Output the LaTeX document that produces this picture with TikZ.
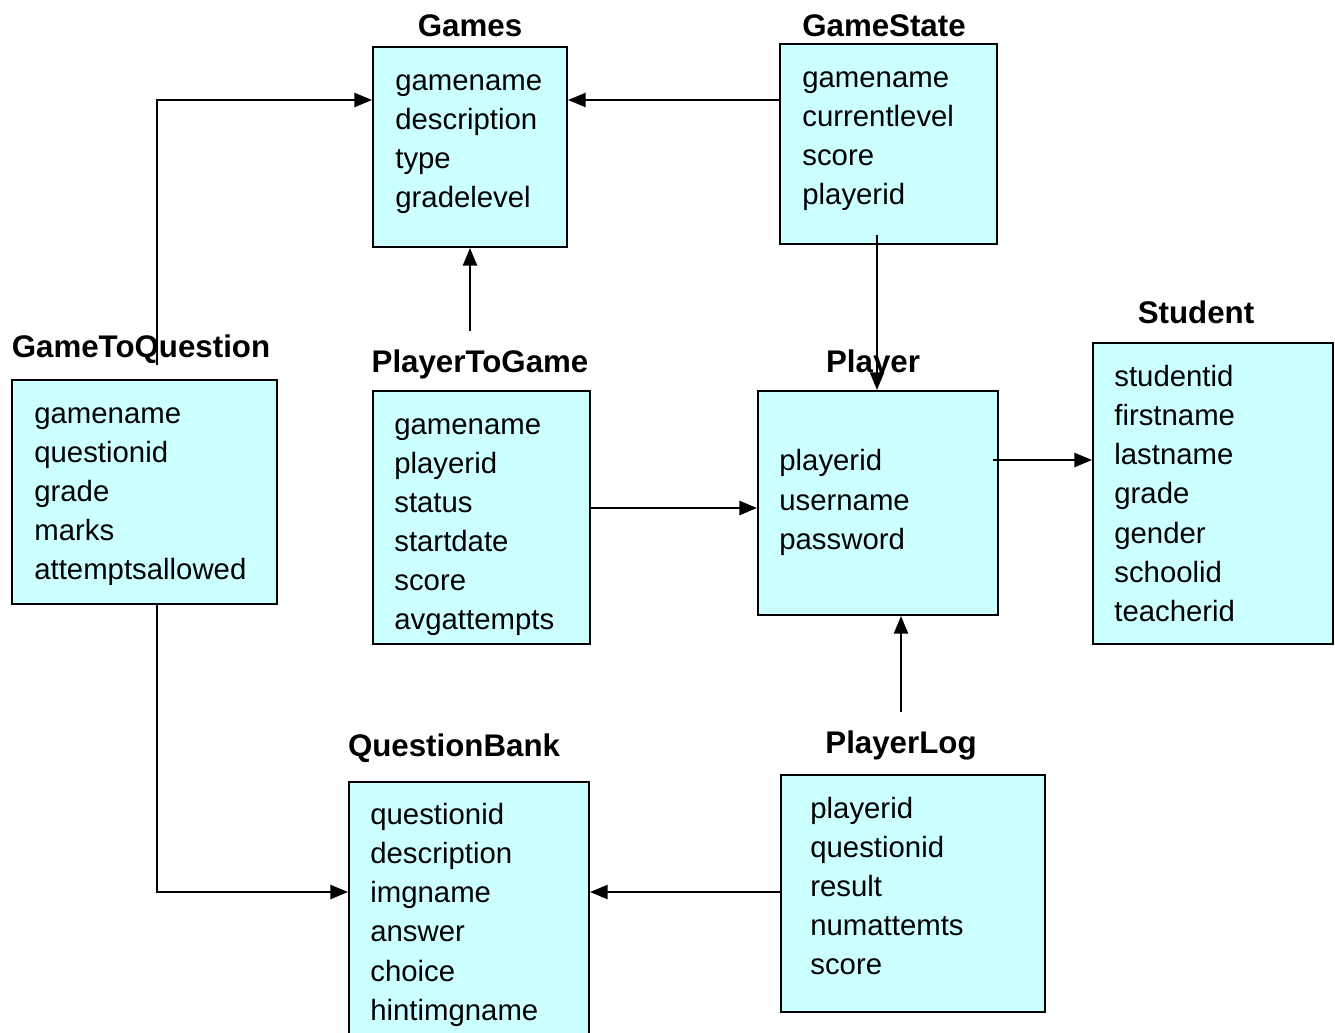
\documentclass[tikz,border=0pt]{standalone}
\usepackage{fontspec}
\setmainfont{Liberation Sans}
\usetikzlibrary{arrows.meta}
\definecolor{tblfill}{HTML}{CCFFFF}
\tikzset{
  tbl/.style={draw, line width=1.2pt, fill=tblfill, inner sep=0pt},
  title/.style={anchor=base, inner sep=0pt, font=\fontsize{17.8}{20}\selectfont\bfseries},
  field/.style={anchor=base west, inner sep=0pt, font=\fontsize{16.7}{20}\selectfont},
  link/.style={line width=1.2pt, -{Triangle[length=10pt,width=8pt]}},
}
\begin{document}
\begin{tikzpicture}[x=0.02cm, y=-0.02cm]
  \clip (0,0) rectangle (1335,1032);
  % tables
  \node [tbl, minimum width=3.88cm, minimum height=4cm] (games) at (470,147) {};
  \node [tbl, minimum width=4.34cm, minimum height=4cm] (gamestate) at (888.5,144) {};
  \node [tbl, minimum width=5.3cm, minimum height=4.48cm] (g2q) at (144.5,492) {};
  \node [tbl, minimum width=4.34cm, minimum height=5.06cm] (p2g) at (481.5,517.5) {};
  \node [tbl, minimum width=4.8cm, minimum height=4.48cm] (player) at (878,503) {};
  \node [tbl, minimum width=4.8cm, minimum height=6.02cm] (student) at (1213,493.5) {};
  \node [tbl, minimum width=4.8cm, minimum height=5.56cm] (qbank) at (469,921) {};
  \node [tbl, minimum width=5.28cm, minimum height=4.74cm] (plog) at (913,893.5) {};

  \node [title] (games-t) at (470,36) {Games};
  \node [title] (gamestate-t) at (884,36) {GameState};
  \node [title] (g2q-t) at (141,357) {GameToQuestion};
  \node [title] (p2g-t) at (480,372) {PlayerToGame};
  \node [title] (player-t) at (873,372) {Player};
  \node [title] (student-t) at (1196,323) {Student};
  \node [title] (qbank-t) at (454,756) {QuestionBank};
  \node [title] (plog-t) at (901,753) {PlayerLog};

  % fields
  \foreach \f [count=\i] in {gamename,description,type,gradelevel}
    \node [field] (games-\i) at (395,51+39*\i) {\f};
  \foreach \f [count=\i] in {gamename,currentlevel,score,playerid}
    \node [field] (gamestate-\i) at (802,48+39*\i) {\f};
  \foreach \f [count=\i] in {gamename,questionid,grade,marks,attemptsallowed}
    \node [field] (g2q-\i) at (34,384+39*\i) {\f};
  \foreach \f [count=\i] in {gamename,playerid,status,startdate,score,avgattempts}
    \node [field] (p2g-\i) at (394,395+39*\i) {\f};
  \foreach \f [count=\i] in {playerid,username,password}
    \node [field] (player-\i) at (779,431+39.5*\i) {\f};
  \foreach \f [count=\i] in {studentid,firstname,lastname,grade,gender,schoolid,teacherid}
    \node [field] (student-\i) at (1114,347+39.2*\i) {\f};
  \foreach \f [count=\i] in {questionid,description,imgname,answer,choice,hintimgname}
    \node [field] (qbank-\i) at (370,785+39.2*\i) {\f};
  \foreach \f [count=\i] in {playerid,questionid,result,numattemts,score}
    \node [field] (plog-\i) at (810,779+39*\i) {\f};

  % links
  \coordinate (g2q-up) at (157,365);
  \coordinate (p2g-up) at (470,331);
  \coordinate (gamestate-down) at (877,235);
  \coordinate (player-out) at (993,460);
  \coordinate (plog-up) at (901,712);
  \draw [link] (g2q-up) |- (games.west |- 0,100);
  \draw [link] (g2q.south -| 157,0) |- (qbank.west |- 0,892);
  \draw [link] (gamestate.west |- 0,100) -- (games.east |- 0,100);
  \draw [link] (p2g-up) -- (games.south);
  \draw [link] (gamestate-down) -- (player.north -| gamestate-down);
  \draw [link] (p2g.east |- 0,508) -- (player.west |- 0,508);
  \draw [link] (player-out) -- (student.west |- player-out);
  \draw [link] (plog-up) -- (player.south -| plog-up);
  \draw [link] (plog.west |- 0,892) -- (qbank.east |- 0,892);
\end{tikzpicture}
\end{document}
